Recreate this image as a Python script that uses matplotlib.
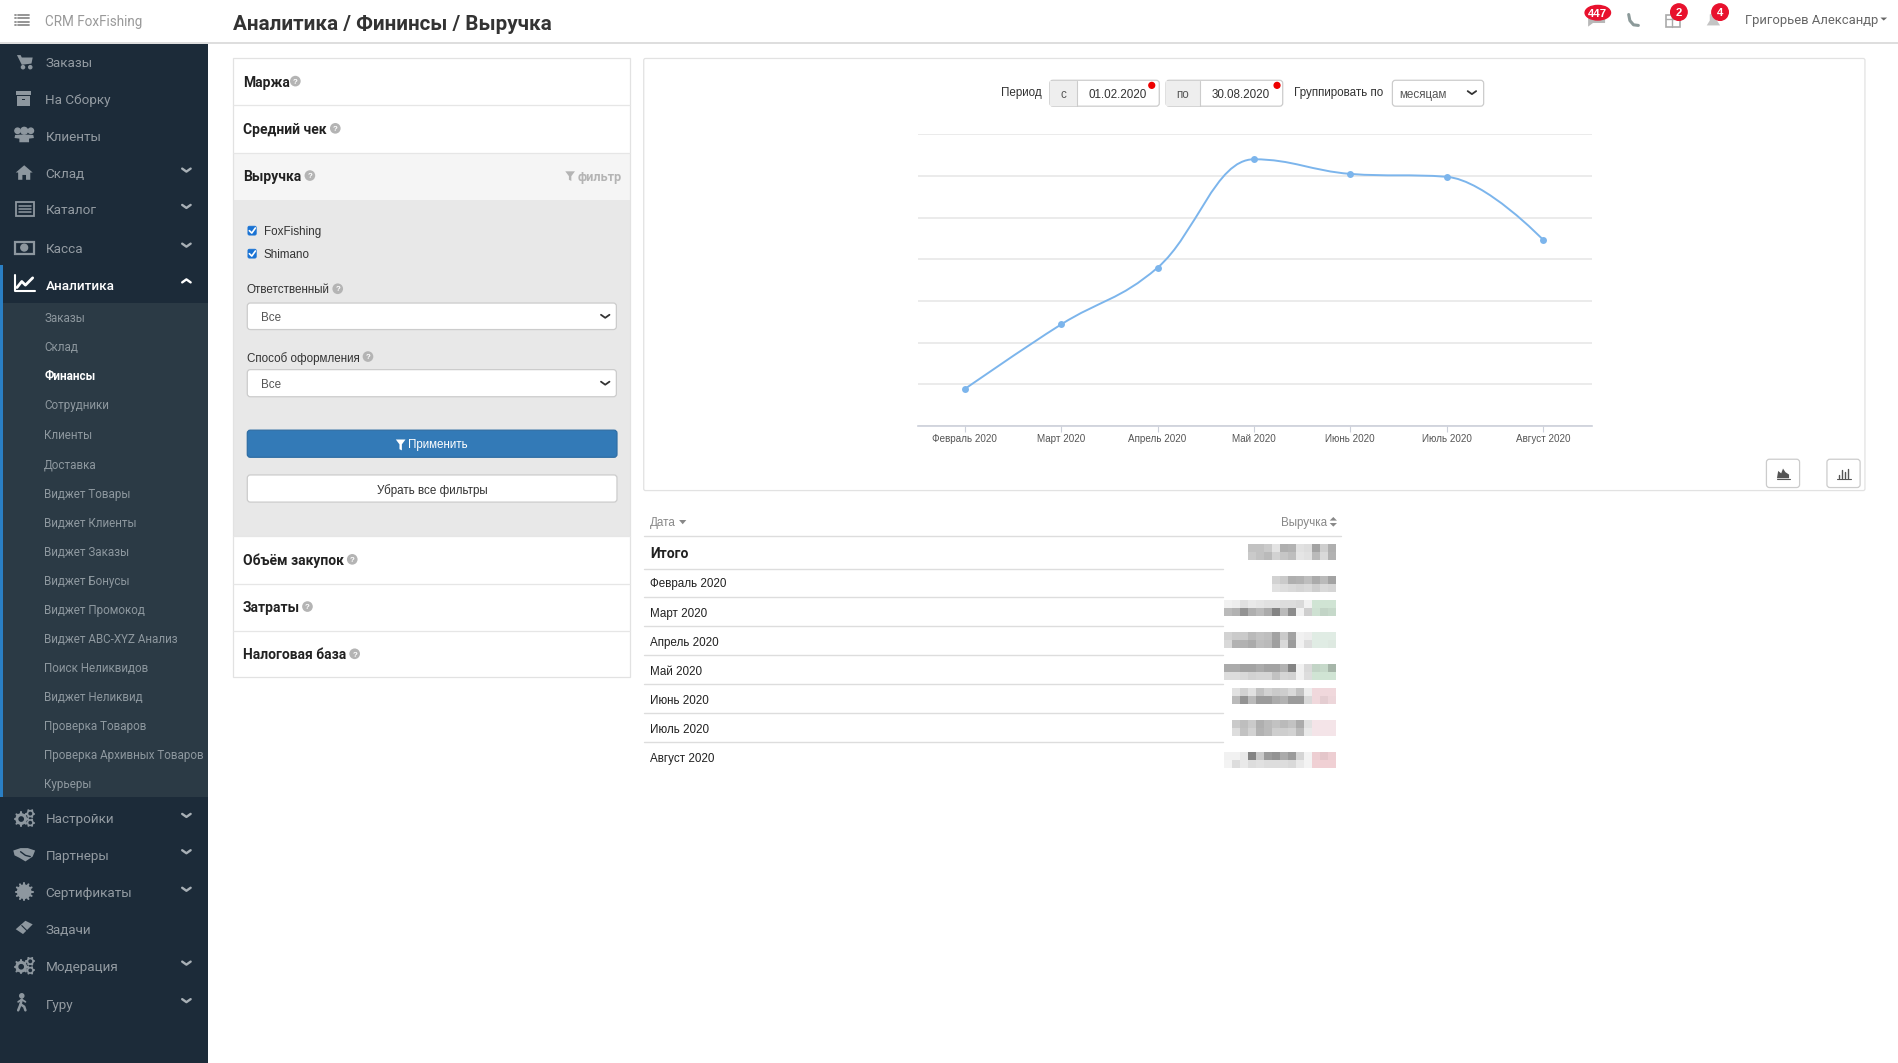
import math
import matplotlib
matplotlib.use("Agg")
import matplotlib.pyplot as plt
from matplotlib.colors import to_rgb, to_hex
from matplotlib.patches import Rectangle, Circle, FancyBboxPatch, Polygon, Ellipse
from matplotlib.path import Path
from matplotlib.patches import PathPatch

# ----------------------------
# Chart data (the y axis labels are hidden in the screenshot, values are in grid steps)
# ----------------------------
months = ["Февраль 2020", "Март 2020", "Апрель 2020", "Май 2020", "Июнь 2020", "Июль 2020", "Август 2020"]
revenue = [0.89, 2.44, 3.80, 6.40, 6.05, 5.98, 4.47]
grid_levels = [0, 1, 2, 3, 4, 5, 6, 7]

# ----------------------------
# Page texts
# ----------------------------
menu_top = ["Заказы", "На Сборку", "Клиенты", "Склад", "Каталог", "Касса", "Аналитика"]
menu_top_y = [51, 82, 112, 143, 173, 205, 235]
menu_top_icons = ["cart", "box", "people", "home", "list", "cash", "chart"]
menu_sub = ["Заказы", "Склад", "Финансы", "Сотрудники", "Клиенты", "Доставка", "Виджет Товары",
            "Виджет Клиенты", "Виджет Заказы", "Виджет Бонусы", "Виджет Промокод", "Виджет ABC-XYZ Анализ",
            "Поиск Неликвидов", "Виджет Неликвид", "Проверка Товаров", "Проверка Архивных Товаров", "Курьеры"]
menu_sub_y = [262, 286, 310, 334, 358.5, 383, 407, 431, 455, 479, 503, 527, 551, 575, 599, 623, 647]
menu_bottom = ["Настройки", "Партнеры", "Сертификаты", "Задачи", "Модерация", "Гуру"]
menu_bottom_y = [676, 706, 737, 767, 798, 829]
menu_bottom_icons = ["gears", "hands", "cert", "ticket", "gears", "walk"]
has_chevron = ["Склад", "Каталог", "Касса", "Настройки", "Партнеры", "Сертификаты", "Модерация", "Гуру"]

panel_names = ["Маржа", "Средний чек", "Выручка", "Объём закупок", "Затраты", "Налоговая база"]
panel_y = [67, 106, 145, 462, 501, 540]
panel_help_x = [244, 277, 256, 291, 254, 293]

table_rows = ["Февраль 2020", "Март 2020", "Апрель 2020", "Май 2020", "Июнь 2020", "Июль 2020", "Август 2020"]
table_rows_y = [481.5, 505.5, 529.5, 553.5, 577.5, 601.5, 625.5]
table_lines_y = [469.7, 493.4, 517.4, 541.3, 565.3, 589.2, 613.1]

# blurred revenue cells, grey levels, two lines of blocks per table row, counted from the right
blur_total = [[0xb4, 0xd4, 0xa8, 0xe4, 0xe8, 0xb8, 0xb4, 0xea, 0xd0, 0xc8, 0xc8],
              [0xb8, 0xe0, 0xc0, 0xe8, 0xec, 0xc4, 0xcc, 0xd8, 0xc0, 0xc8, 0xd0]]
blur_rows = [
    ([[0xa8, 0xc0, 0xb0, 0xc4, 0xb8, 0xb4, 0xd0, 0xd8],
      [0xdc, 0xe0, 0xd4, 0xe0, 0xdc, 0xe0, 0xe4, 0xe8]], None),
    ([[0xf0, 0xec, 0xf0, 0xf8, 0xe0, 0xe4, 0xe4, 0xe8, 0xe8, 0xec, 0xf0, 0xe8, 0xf4, 0xf8],
      [0xc8, 0xc4, 0xd0, 0xd4, 0xf8, 0x90, 0xc0, 0x88, 0xb0, 0xc0, 0xb4, 0x98, 0xb8, 0xc0]], "#d0e4d4"),
    ([[0xe8, 0xe4, 0xe8, 0xf4, 0xf8, 0xa8, 0xd0, 0xa8, 0xc4, 0xc8, 0xc0, 0xd0, 0xd0, 0xd8],
      [0xd0, 0xe0, 0xe4, 0xe4, 0xf8, 0xa0, 0xe0, 0xa4, 0xc0, 0xc4, 0xb0, 0xb8, 0xb8, 0xe0]], "#e0ece4"),
    ([[0xa8, 0xc8, 0xc4, 0xe0, 0xf8, 0x88, 0xb8, 0xa8, 0xa8, 0xb0, 0xa8, 0xa8, 0xb0, 0xb0],
      [0xe0, 0xe4, 0xe4, 0xe4, 0xf8, 0xd8, 0xdc, 0xc8, 0xdc, 0xdc, 0xd8, 0xe0, 0xe4, 0xe4]], "#d0e4d4"),
    ([[0xf0, 0xe8, 0xf4, 0xf4, 0xc8, 0xe0, 0xd4, 0xd0, 0xd8, 0xc8, 0xe8, 0xd8, 0xe8],
      [0xd0, 0xc8, 0xe8, 0xe0, 0xa0, 0xa0, 0xb8, 0xb0, 0xa0, 0xa0, 0xc0, 0x98, 0xc0]], "#f0d8dc"),
    ([[0xe4, 0xd8, 0xf4, 0xe8, 0xb0, 0xc8, 0xc0, 0xc8, 0xc0, 0xb4, 0xd0, 0xc4, 0xd0],
      [0xe8, 0xe4, 0xf0, 0xf0, 0xc0, 0xd8, 0xd4, 0xd4, 0xc0, 0xb8, 0xd8, 0xc8, 0xe4]], "#f4e4e8"),
    ([[0xd0, 0xc8, 0xd0, 0xfa, 0xdc, 0xa0, 0xb0, 0x98, 0xa0, 0xd0, 0x88, 0xf0, 0xf8, 0xf8],
      [0xf0, 0xf0, 0xf4, 0xfa, 0xf0, 0xe0, 0xe4, 0xe4, 0xe4, 0xe8, 0xe4, 0xf0, 0xe4, 0xfa]], "#f0d0d4"),
]
blur_rows_y = [476, 495.6, 522, 548.5, 568, 594.7, 621]

SIDE = "#1c2b39"
SIDE_SUB = "#2b3a45"
ICON = "#8d979f"
LINE = "#dddddd"
TEXT = "#333333"
ARIAL = "Liberation Sans"
ROBOTO = "Roboto"
FS = 8.35

fig = plt.figure(figsize=(18.98, 10.63), dpi=100, facecolor="white")

# page axes in the 1568 wide screen coordinates
pg = fig.add_axes([0, 0, 1, 1])
pg.set_xlim(0, 1568)
pg.set_ylim(878, 0)
pg.axis("off")


def txt(x, y, s, size=FS, color=TEXT, weight="normal", ha="left", family=ARIAL):
    pg.text(x, y, s, fontsize=size, color=color, fontweight=weight, ha=ha, va="center_baseline",
            family=family, zorder=10)


def rect(x0, y0, x1, y1, fc="white", ec="none", lw=0.8, z=1):
    pg.add_patch(Rectangle((x0, y0), x1 - x0, y1 - y0, facecolor=fc, edgecolor=ec, linewidth=lw, zorder=z))


def rrect(x0, y0, x1, y1, fc="white", ec="#cccccc", lw=0.9, r=2.5, z=2):
    x0, y0, x1, y1 = x0 + 0.3, y0 + 0.3, x1 - 0.3, y1 - 0.3
    pg.add_patch(FancyBboxPatch((x0 + r, y0 + r), x1 - x0 - 2 * r, y1 - y0 - 2 * r,
                                boxstyle=f"round,pad={r},rounding_size={r}",
                                facecolor=fc, edgecolor=ec, linewidth=lw, zorder=z))


def line(xs, ys, color=LINE, lw=1.0, z=3):
    pg.plot(xs, ys, color=color, lw=lw, zorder=z, solid_capstyle="round", solid_joinstyle="round")


def chevron(x, y, up=False, color="#a8b0b6", lw=1.7, w=3.5, h=2.5):
    d = -h if up else h
    line([x - w, x, x + w], [y - d / 2, y + d / 2, y - d / 2], color=color, lw=lw, z=5)


def help_icon(x, y):
    pg.add_patch(Circle((x, y), 4.4, facecolor="#b4b4b4", edgecolor="none", zorder=4))
    txt(x, y + 0.2, "?", size=5.8, color="white", ha="center", weight="bold")


def poly(pts, color=ICON, z=5):
    pg.add_patch(Polygon(pts, closed=True, facecolor=color, edgecolor="none", zorder=z))


def gear(x, y, r, color=ICON, hole=True, teeth=8):
    pg.add_patch(Circle((x, y), r * 0.78, color=color, zorder=5))
    for k in range(teeth):
        a = 2 * math.pi * k / teeth
        line([x + r * 0.7 * math.cos(a), x + r * math.cos(a)], [y + r * 0.7 * math.sin(a), y + r * math.sin(a)],
             color=color, lw=1.5, z=5)
    if hole:
        pg.add_patch(Circle((x, y), r * 0.32, color=SIDE, zorder=6))


def icon(kind, x, y, color=ICON):
    # rough versions of the font icons of the menu
    if kind == "cart":
        poly([(x - 6, y - 5), (x - 3, y - 5), (x - 2, y - 3), (x + 7, y - 3), (x + 6, y + 2), (x - 2, y + 3)], color)
        pg.add_patch(Circle((x - 1, y + 5), 1.3, color=color, zorder=5))
        pg.add_patch(Circle((x + 5, y + 5), 1.3, color=color, zorder=5))
    elif kind == "box":
        rect(x - 7, y - 6, x + 6, y - 3, fc=color, z=5)
        rect(x - 6, y - 2, x + 5, y + 6, fc=color, z=5)
        rect(x - 2, y, x + 1, y + 1, fc=SIDE, z=6)
    elif kind == "people":
        for dx, dy, r in [(-5.5, -3.5, 2.2), (5.5, -3.5, 2.2), (0, -3.5, 2.8)]:
            pg.add_patch(Circle((x + dx, y + dy), r, color=color, zorder=5))
        poly([(x - 8, y + 2.5), (x - 7.5, y), (x - 3.5, y - 0.3), (x + 3.5, y - 0.3), (x + 7.5, y), (x + 8, y + 2.5),
              (x + 4, y + 3), (x + 4, y + 6), (x - 4, y + 6), (x - 4, y + 3)], color)
    elif kind == "home":
        poly([(x - 7, y), (x, y - 6), (x + 7, y), (x + 5, y), (x + 5, y + 6), (x + 1.5, y + 6), (x + 1.5, y + 2),
              (x - 1.5, y + 2), (x - 1.5, y + 6), (x - 5, y + 6), (x - 5, y)], color)
    elif kind == "list":
        pg.add_patch(Rectangle((x - 7, y - 6), 15, 12, fill=False, edgecolor=color, lw=1.3, zorder=5))
        for dy in (-2.5, 0, 2.5):
            line([x - 4.5, x + 5.5], [y + dy, y + dy], color=color, lw=1.1, z=5)
    elif kind == "cash":
        pg.add_patch(Rectangle((x - 8, y - 5), 16, 10, fill=False, edgecolor=color, lw=1.6, zorder=5))
        pg.add_patch(Circle((x, y), 2.8, color=color, zorder=5))
    elif kind == "chart":
        line([x - 8, x - 8, x + 9], [y - 7, y + 6, y + 6], color="white", lw=1.5, z=5)
        line([x - 6, x - 2, x + 1, x + 7], [y + 3, y - 2, y + 1, y - 5], color="white", lw=2.0, z=5)
    elif kind == "gears":
        gear(x - 2.5, y + 1, 5.5, color)
        gear(x + 5, y - 3.5, 3.2, color, teeth=6)
        gear(x + 5, y + 4, 3.0, color, teeth=6)
    elif kind == "hands":
        poly([(x - 9, y - 3), (x - 3, y - 5), (x + 3, y - 5), (x + 9, y - 3), (x + 7, y + 2), (x + 1, y + 6),
              (x - 4, y + 3), (x - 8, y + 1)], color)
        line([x - 3, x + 1, x + 5], [y - 2, y + 1, y + 2], color=SIDE, lw=1.0, z=6)
    elif kind == "cert":
        gear(x, y, 7, color, hole=False, teeth=12)
    elif kind == "ticket":
        poly([(x - 7, y + 1), (x + 1, y - 6), (x + 7, y - 3), (x - 1, y + 5)], color)
        line([x - 2, x + 2], [y - 2, y + 2], color=SIDE, lw=0.8, z=6)
    elif kind == "walk":
        pg.add_patch(Circle((x - 2, y - 6), 1.7, color=color, zorder=5))
        line([x - 2, x - 3, x - 5], [y - 3, y + 1, y + 6], color=color, lw=1.8, z=5)
        line([x - 3, x, x + 1], [y + 1, y + 3, y + 6], color=color, lw=1.8, z=5)
        line([x - 5, x - 2, x + 1], [y - 1, y - 3, y - 1], color=color, lw=1.3, z=5)


# ----------------------------
# Header
# ----------------------------
line([0, 1568], [35.5, 35.5], color="#d8d8d8", lw=1.2)
for dy in (-4, -1.3, 1.3, 4):
    line([15, 24], [16.5 + dy, 16.5 + dy], color="#8c8c8c", lw=1.3)
    line([12, 13], [16.5 + dy, 16.5 + dy], color="#8c8c8c", lw=1.3)
txt(37, 17, "CRM FoxFishing", size=9.75, color="#999999", family=ROBOTO)
txt(192.5, 18.5, "Аналитика / Фининсы / Выручка", size=14.9, color="#333333", weight="bold", family=ROBOTO)

poly([(1312, 14), (1312, 22), (1316, 19), (1326, 19), (1326, 14)], color="#b8b8b8")
pg.add_patch(Ellipse((1320, 10.5), 21, 12, color="#e8112d", zorder=6))
txt(1320, 10.5, "447", size=8.2, color="white", ha="center", weight="bold")
line([1345.5, 1346.5, 1349.5, 1353.5], [12, 17, 20.5, 21], color="#8c9a9a", lw=2.2)
pg.add_patch(Rectangle((1376, 12), 11.5, 10.5, fill=False, edgecolor="#aaaaaa", lw=1.2, zorder=5))
line([1376, 1387.5], [16, 16], color="#aaaaaa", lw=1)
line([1381.5, 1381.5], [12, 22.5], color="#aaaaaa", lw=1)
pg.add_patch(Circle((1387, 10), 6.8, color="#e8112d", zorder=6))
txt(1387, 10, "2", size=8.2, color="white", ha="center", weight="bold")
poly([(1410, 21), (1412.5, 17), (1412.5, 12), (1417, 10), (1418.5, 17), (1421, 21)], color="#c4c4c4")
pg.add_patch(Circle((1421, 10), 6.8, color="#e8112d", zorder=6))
txt(1421, 10, "4", size=8.2, color="white", ha="center", weight="bold")
txt(1442, 15.5, "Григорьев Александр", size=9.35, color="#666666", family=ROBOTO)
poly([(1553.5, 14.5), (1559, 14.5), (1556.2, 17)], color="#666666")

# ----------------------------
# Sidebar
# ----------------------------
rect(0, 36, 172, 878, fc=SIDE, z=1)
rect(0, 250, 172, 658, fc=SIDE_SUB, z=1.5)
rect(0, 219, 2.2, 658, fc="#2a7fc4", z=2)

for name, y, ic in zip(menu_top + menu_bottom, menu_top_y + menu_bottom_y, menu_top_icons + menu_bottom_icons):
    active = name == "Аналитика"
    icon(ic, 20, y - 0.5)
    txt(37.5, y, name, size=9.7, color="#ffffff" if active else "#939ba2", family=ROBOTO,
        weight="medium" if active else "normal")
    if name in has_chevron:
        chevron(154, y - 2.5)
    if active:
        chevron(154, y - 3, up=True, color="white")

for name, y in zip(menu_sub, menu_sub_y):
    active = name == "Финансы"
    txt(36.5, y, name, size=8.4, color="#ffffff" if active else "#8e989f", family=ROBOTO,
        weight="bold" if active else "normal")

# ----------------------------
# Left accordion
# ----------------------------
rect(192.5, 126, 521, 165, fc="#f5f5f5", z=1)
rect(192.5, 165, 521, 443, fc="#e8e8e8", z=1)
pg.add_patch(Rectangle((192.5, 48), 328, 511, fill=False, edgecolor="#e2e2e2", lw=0.9, zorder=2))
for y in (87, 126, 443, 482, 521):
    line([192.5, 520.5], [y, y], color="#e6e6e6", lw=0.9)

for name, y, hx in zip(panel_names, panel_y, panel_help_x):
    txt(200.5, y, name, size=10.0, color="#222222", weight="bold", family=ROBOTO)
    help_icon(hx, y)

poly([(467, 141.5), (475, 141.5), (472, 145.5), (472, 149.5), (470, 148.5), (470, 145.5)], color="#b4b4b4")
txt(477, 145, "фильтр", size=9.1, color="#b4b4b4", weight="bold", family=ROBOTO)

for label, y in (("FoxFishing", 190.5), ("Shimano", 209.5)):
    rrect(204.5, y - 4, 212, y + 4, fc="#1a73d4", ec="#1a73d4", r=1.2, lw=0.5)
    line([206, 208, 211], [y, y + 2, y - 2.2], color="white", lw=1.2, z=4)
    txt(218, y, label, size=FS, color="#333333")

txt(204, 238.5, "Ответственный", size=FS)
help_icon(279, 238.5)
txt(204, 294.5, "Способ оформления", size=FS)
help_icon(304, 294.5)
for y0, y1 in ((250, 272.5), (305, 328)):
    rrect(204, y0, 509.5, y1)
    txt(216, (y0 + y1) / 2, "Все", size=FS, color="#555555")
    chevron(500, (y0 + y1) / 2, color="#333333", lw=1.3)

rrect(204, 355, 510, 378, fc="#337ab7", ec="#2e6da4")
poly([(327, 363), (335, 363), (332, 367), (332, 372), (330, 371), (330, 367)], color="white", z=4)
txt(337, 366.5, "Применить", size=FS, color="white")
rrect(204, 392, 510, 415)
txt(357, 404, "Убрать все фильтры", size=FS, ha="center")

# ----------------------------
# Chart panel and its controls
# ----------------------------
rrect(531.5, 48, 1541, 405.5, ec="#e2e2e2", r=1.5, z=1)
txt(827, 75.5, "Период", size=FS)
for x0, xm, x1, label, value, tx, dot in ((867, 890, 958, "с", "01.02.2020", 899, 951.5),
                                          (963, 991, 1060, "по", "30.08.2020", 1001, 1055)):
    rrect(x0, 66, x1, 88)
    rect(x0 + 0.6, 66.6, xm, 87.4, fc="#eeeeee", z=3)
    line([xm, xm], [66.5, 87.5], color="#cccccc", lw=0.8)
    txt((x0 + xm) / 2, 77, label, size=FS, color="#555555", ha="center")
    txt(tx, 77, value, size=FS)
    pg.add_patch(Circle((dot, 70.5), 2.4, color="#ee0000", zorder=6))
txt(1069, 75.5, "Группировать по", size=FS)
rrect(1150, 66, 1226, 88)
txt(1156, 77.5, "месяцам", size=FS, color="#555555")
chevron(1216, 76.5, color="#333333", lw=1.3)

rrect(1459, 379, 1487, 403)
rrect(1509, 379, 1537, 403)
poly([(1468, 395), (1469, 389), (1471.5, 391), (1473, 387), (1475, 390), (1478, 392), (1478, 395)], color="#555555", z=4)
line([1468, 1479], [396, 396], color="#555555", lw=0.8, z=4)
for bx, top in ((1519.5, 392), (1522, 388), (1524.5, 390), (1527, 387)):
    line([bx, bx], [top, 395], color="#555555", lw=1.0, z=4)
line([1518, 1529], [396, 396], color="#555555", lw=0.8, z=4)

# ----------------------------
# Revenue chart, own axes placed over the panel
# ----------------------------
W, H = 1568.0, 878.0
ax = fig.add_axes([758 / W, 1 - 352 / H, (1315.4 - 758) / W, (352 - 110.9) / H])
ax.patch.set_alpha(0)
ax.set_xlim(-0.49, 6.51)
ax.set_ylim(0, 7)
for s in ("top", "left", "right"):
    ax.spines[s].set_visible(False)
ax.spines["bottom"].set_color("#ccd0da")
ax.spines["bottom"].set_linewidth(1.2)
ax.set_yticks(grid_levels)
ax.set_yticklabels([])
ax.tick_params(axis="y", length=0)
ax.yaxis.grid(True, color="#e6e6e6", lw=1.1)
ax.set_axisbelow(True)
ax.set_xticks(range(len(months)))
ax.set_xticklabels(months, fontsize=7.1, color="#555555", family=ARIAL)
ax.tick_params(axis="x", length=4, width=0.8, color="#ccd0da", pad=1.5)


def spline_path(xs, ys, smoothing=1.5):
    # same control points the spline of the original chart library uses
    n = len(xs)
    left = [None] * n
    right = [None] * n
    denom = smoothing + 1
    for i in range(1, n - 1):
        lcx = (smoothing * xs[i] + xs[i - 1]) / denom
        lcy = (smoothing * ys[i] + ys[i - 1]) / denom
        rcx = (smoothing * xs[i] + xs[i + 1]) / denom
        rcy = (smoothing * ys[i] + ys[i + 1]) / denom
        corr = (rcy - lcy) * (rcx - xs[i]) / (rcx - lcx) + ys[i] - rcy
        lcy += corr
        rcy += corr
        if lcy > ys[i - 1] and lcy > ys[i]:
            lcy = max(ys[i - 1], ys[i])
            rcy = 2 * ys[i] - lcy
        elif lcy < ys[i - 1] and lcy < ys[i]:
            lcy = min(ys[i - 1], ys[i])
            rcy = 2 * ys[i] - lcy
        if rcy > ys[i + 1] and rcy > ys[i]:
            rcy = max(ys[i + 1], ys[i])
            lcy = 2 * ys[i] - rcy
        elif rcy < ys[i + 1] and rcy < ys[i]:
            rcy = min(ys[i + 1], ys[i])
            lcy = 2 * ys[i] - rcy
        left[i] = (lcx, lcy)
        right[i] = (rcx, rcy)
    verts = [(xs[0], ys[0])]
    codes = [Path.MOVETO]
    for i in range(1, n):
        verts += [right[i - 1] or (xs[i - 1], ys[i - 1]), left[i] or (xs[i], ys[i]), (xs[i], ys[i])]
        codes += [Path.CURVE4] * 3
    return Path(verts, codes)


xpos = list(range(len(months)))
ax.add_patch(PathPatch(spline_path(xpos, revenue), fill=False, edgecolor="#7cb5ec", lw=1.4, zorder=3))
ax.plot(xpos, revenue, ls="none", marker="o", ms=5, color="#7cb5ec", mec="none", zorder=4, clip_on=False)

# ----------------------------
# Table under the chart
# ----------------------------
txt(537, 431, "Дата", size=FS, color="#888888")
poly([(561, 429.5), (567, 429.5), (564, 433)], color="#888888")
txt(1096, 431, "Выручка", size=FS, color="#888888", ha="right")
poly([(1098.5, 430), (1104.5, 430), (1101.5, 427)], color="#888888")
poly([(1098.5, 432), (1104.5, 432), (1101.5, 435)], color="#888888")
line([532, 1108], [443, 443], color="#dddddd", lw=1.0)
txt(537, 456, "Итого", size=10.0, color="#222222", weight="bold", family=ROBOTO)
for name, y in zip(table_rows, table_rows_y):
    txt(537, y, name, size=FS, color="#222222")
for y in table_lines_y:
    line([532, 1010], [y, y], color="#dddddd", lw=1.0)


def blur(rows, top, tint=None):
    # pixelated revenue value, two lines of square blocks ending at the right edge of the column
    cell_w, cell_h, right = 6.63, 6.6, 1103.8
    for r, cells in enumerate(rows):
        for c, g in enumerate(cells):
            level = g / 255 * 0.97
            if tint and c < 3:
                # last digits are tinted, still lighter or darker from cell to cell
                k = min(1.0, level / 0.8)
                color = to_hex([v * k for v in to_rgb(tint)])
            else:
                color = (level, level, level)
            rect(right - (c + 1) * cell_w, top + r * cell_h, right - c * cell_w, top + (r + 1) * cell_h, fc=color, z=2)


blur(blur_total, 449.5)
for (cells, tint), top in zip(blur_rows, blur_rows_y):
    blur(cells, top, tint)

fig.savefig("out.png", dpi=100)
